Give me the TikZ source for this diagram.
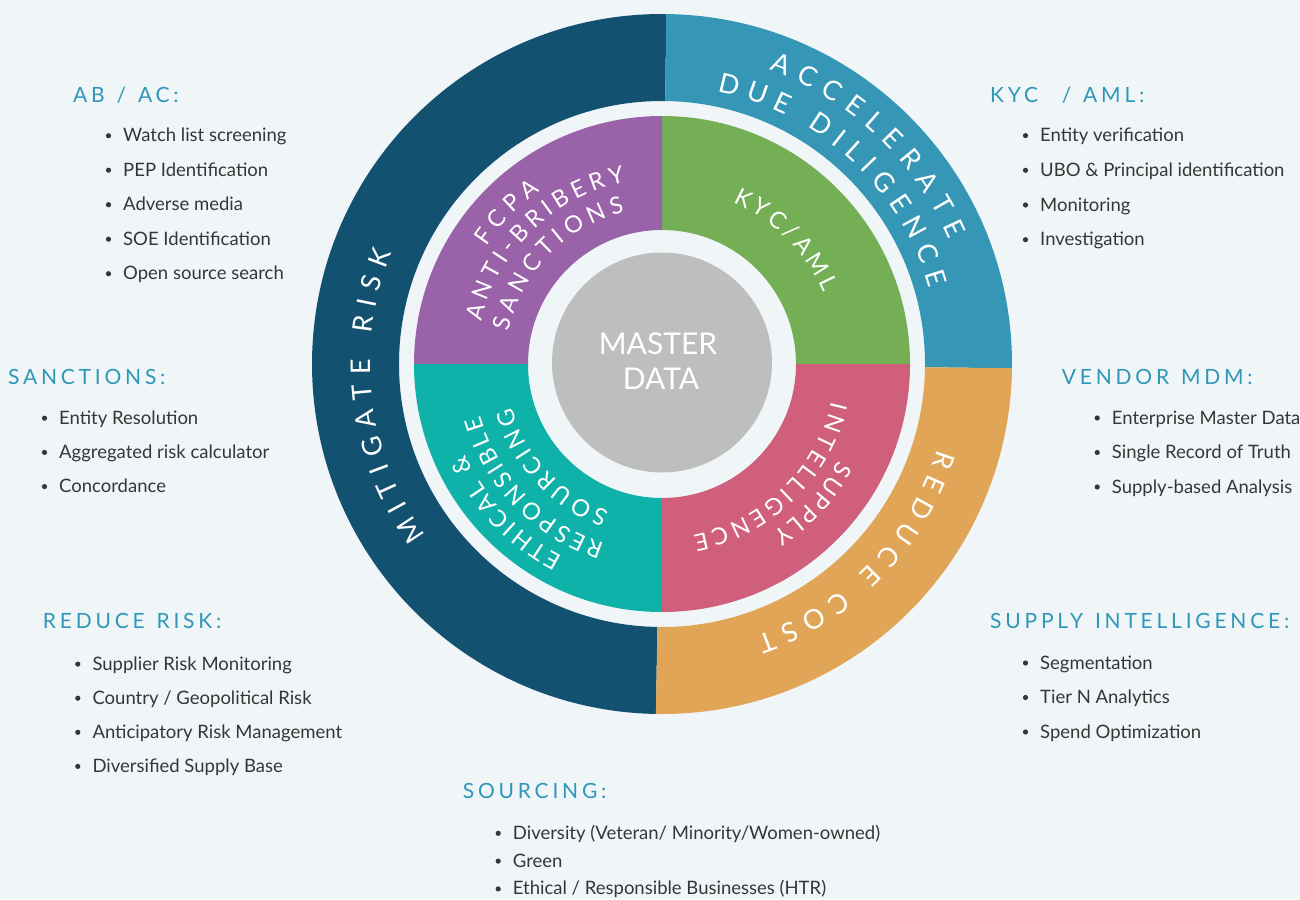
\documentclass[tikz,border=0pt]{standalone}
\usepackage{fontspec}
\setmainfont{Lato}
\newfontfamily\headfont[LetterSpace=18, WordSpace=1.3]{Lato}
\usetikzlibrary{decorations.text}

\definecolor{bgcol}{HTML}{F0F5F8}
\definecolor{navyring}{HTML}{135170}
\definecolor{bluering}{HTML}{3596B6}
\definecolor{orangering}{HTML}{E0A556}
\definecolor{purplequad}{HTML}{9A62A8}
\definecolor{greenquad}{HTML}{74AF55}
\definecolor{tealquad}{HTML}{0EB2A8}
\definecolor{pinkquad}{HTML}{CF5F7B}
\definecolor{coregray}{HTML}{BEBEBE}
\definecolor{headcol}{HTML}{2F97B7}
\definecolor{itemcol}{HTML}{363636}

\newcommand{\outerfont}{\fontsize{27}{27}\selectfont\color{white}}
\newcommand{\innerfont}{\fontsize{23.5}{23.5}\selectfont\color{white}}

\begin{document}
\begin{tikzpicture}[x=1pt, y=1pt,
    heading/.style={anchor=base west, inner sep=0pt, text=headcol,
        font=\headfont\fontsize{21}{21}\selectfont},
    item/.style={anchor=base west, inner sep=0pt, text=itemcol,
        font=\fontsize{18.5}{22}\selectfont},
    ringtext/.style={decorate, decoration={text along path,
        text align={fit to path}, text={#1}}}]

    % --- Canvas (1300 x 899, y runs downwards as negative) ---
    \useasboundingbox (0,0) rectangle (1300,-899);
    \fill[bgcol] (0,0) rectangle (1300,-899);

    % --- Coordinates ---
    \coordinate (O) at (662,-364); % Centre of the wheel

    \begin{scope}[shift={(O)}]
    % --- Outer ring (r = 263 .. 350) ---
    \fill[navyring] (89.3:350) arc[start angle=89.3, end angle=269, radius=350]
        -- (269:263) arc[start angle=269, end angle=89.3, radius=263] -- cycle;
    \fill[bluering] (-0.7:350) arc[start angle=-0.7, end angle=89.3, radius=350]
        -- (89.3:263) arc[start angle=89.3, end angle=-0.7, radius=263] -- cycle;
    \fill[orangering] (-91:350) arc[start angle=-91, end angle=-0.7, radius=350]
        -- (-0.7:263) arc[start angle=-0.7, end angle=-91, radius=263] -- cycle;

    % --- Inner ring (r = 134 .. 248), one quadrant each ---
    \fill[greenquad] (0:248) arc[start angle=0, end angle=90, radius=248]
        -- (90:134) arc[start angle=90, end angle=0, radius=134] -- cycle;
    \fill[purplequad] (90:248) arc[start angle=90, end angle=180, radius=248]
        -- (180:134) arc[start angle=180, end angle=90, radius=134] -- cycle;
    \fill[tealquad] (180:248) arc[start angle=180, end angle=270, radius=248]
        -- (270:134) arc[start angle=270, end angle=180, radius=134] -- cycle;
    \fill[pinkquad] (270:248) arc[start angle=270, end angle=360, radius=248]
        -- (360:134) arc[start angle=360, end angle=270, radius=134] -- cycle;

    % --- Core ---
    \fill[coregray] (0,1.5) circle (110);

    % --- Curved labels, outer ring (clockwise arcs, tops outward) ---
    \path[ringtext={|\outerfont|MITIGATE RISK}]
        (216:292) arc[start angle=216, end angle=157.6, radius=292];
    \path[ringtext={|\outerfont|ACCELERATE}]
        (70:313) arc[start angle=70, end angle=23.5, radius=313];
    \path[ringtext={|\outerfont|DUE DILIGENCE}]
        (78.6:278) arc[start angle=78.6, end angle=15.8, radius=278];
    \path[ringtext={|\outerfont|REDUCE COST}]
        (-17.2:288) arc[start angle=-17.2, end angle=-70.8, radius=288];

    % --- Curved labels, inner ring ---
    \path[ringtext={|\innerfont|FCPA}]
        (146.2:211.6) arc[start angle=146.2, end angle=125, radius=211.6];
    \path[ringtext={|\innerfont|ANTI-BRIBERY}]
        (166.9:185.6) arc[start angle=166.9, end angle=101.4, radius=185.6];
    \path[ringtext={|\innerfont|SANCTIONS}]
        (168.1:156.6) arc[start angle=168.1, end angle=103.8, radius=156.6];
    \path[ringtext={|\innerfont|KYC/AML}]
        (66.4:176.6) arc[start angle=66.4, end angle=23.8, radius=176.6];
    \path[ringtext={|\innerfont|ETHICAL {\&}}]
        (242.8:216.6) arc[start angle=242.8, end angle=204.8, radius=216.6];
    \path[ringtext={|\innerfont|RESPONSIBLE}]
        (252.2:188.6) arc[start angle=252.2, end angle=196, radius=188.6];
    \path[ringtext={|\innerfont|SOURCING}]
        (250.2:156.6) arc[start angle=250.2, end angle=196.2, radius=156.6];
    \path[ringtext={|\innerfont|SUPPLY}]
        (-28.7:201.6) arc[start angle=-28.7, end angle=-56.9, radius=201.6];
    \path[ringtext={|\innerfont|INTELLIGENCE}]
        (-12.6:173.6) arc[start angle=-12.6, end angle=-79.7, radius=173.6];
    \end{scope}

    % --- Centre text ---
    \node[anchor=base, inner sep=0pt, text=white, font=\fontsize{30}{30}\selectfont]
        (master) at (658,-354) {MASTER};
    \node[anchor=base, inner sep=0pt, text=white, font=\fontsize{30}{30}\selectfont]
        (data) at (661,-389) {DATA};

    % --- Lists: AB / AC (top left) ---
    \node[heading] (abac) at (73,-102) {AB / AC:};
    \foreach \txt [count=\i] in {Watch list screening, PEP Identification,
        Adverse media, SOE Identification, Open source search}
    {
        \node[item] (abac-\i) at (123,{-107.2-34.5*\i}) {\txt};
        \fill[itemcol] ([xshift=-14.5pt, yshift=6pt]abac-\i.base west) circle (2.6pt);
    }

    % --- KYC / AML (top right) ---
    \node[heading] (kycaml) at (990,-102) {KYC\ \ / AML:};
    \foreach \txt [count=\i] in {Entity verification, UBO \& Principal identification,
        Monitoring, Investigation}
    {
        \node[item] (kycaml-\i) at (1040,{-106.9-34.7*\i}) {\txt};
        \fill[itemcol] ([xshift=-14.5pt, yshift=6pt]kycaml-\i.base west) circle (2.6pt);
    }

    % --- Sanctions (middle left) ---
    \node[heading] (sanctions) at (8,-384.3) {SANCTIONS:};
    \foreach \txt [count=\i] in {Entity Resolution, Aggregated risk calculator,
        Concordance}
    {
        \node[item] (sanctions-\i) at (59,{-390-34.2*\i}) {\txt};
        \fill[itemcol] ([xshift=-14.5pt, yshift=6pt]sanctions-\i.base west) circle (2.6pt);
    }

    % --- Vendor MDM (middle right) ---
    \node[heading] (vendor) at (1061.7,-384.3) {VENDOR MDM:};
    \foreach \txt [count=\i] in {Enterprise Master Data, Single Record of Truth,
        Supply-based Analysis}
    {
        \node[item] (vendor-\i) at (1111.7,{-389.5-34.5*\i}) {\txt};
        \fill[itemcol] ([xshift=-14.5pt, yshift=6pt]vendor-\i.base west) circle (2.6pt);
    }

    % --- Reduce risk (bottom left) ---
    \node[heading] (reducerisk) at (42.7,-628.3) {REDUCE RISK:};
    \foreach \txt [count=\i] in {Supplier Risk Monitoring, Country / Geopolitical Risk,
        Anticipatory Risk Management, Diversified Supply Base}
    {
        \node[item] (reducerisk-\i) at (92.3,{-636-34.1*\i}) {\txt};
        \fill[itemcol] ([xshift=-14.5pt, yshift=6pt]reducerisk-\i.base west) circle (2.6pt);
    }

    % --- Supply intelligence (bottom right) ---
    \node[heading] (supplyint) at (990,-628.3) {SUPPLY INTELLIGENCE:};
    \foreach \txt [count=\i] in {Segmentation, Tier N Analytics, Spend Optimization}
    {
        \node[item] (supplyint-\i) at (1040,{-634.5-34.5*\i}) {\txt};
        \fill[itemcol] ([xshift=-14.5pt, yshift=6pt]supplyint-\i.base west) circle (2.6pt);
    }

    % --- Sourcing (bottom centre) ---
    \node[heading] (sourcing) at (462.7,-798.3) {SOURCING:};
    \foreach \txt [count=\i] in {Diversity (Veteran/ Minority/Women-owned), Green,
        Ethical / Responsible Businesses (HTR)}
    {
        \node[item] (sourcing-\i) at (512.7,{-811.5-27.8*\i}) {\txt};
        \fill[itemcol] ([xshift=-14.5pt, yshift=6pt]sourcing-\i.base west) circle (2.6pt);
    }

\end{tikzpicture}
\end{document}
